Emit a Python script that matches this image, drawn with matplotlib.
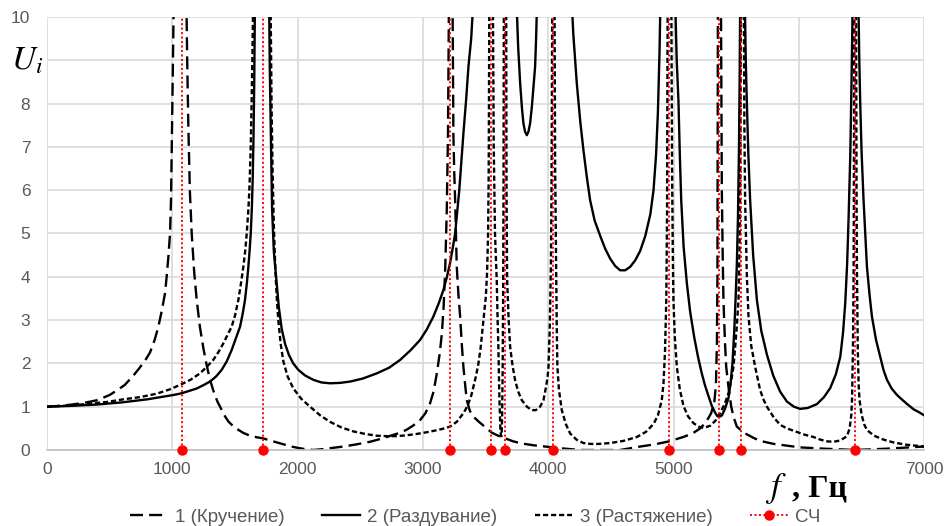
import matplotlib
matplotlib.use('Agg')
import matplotlib.pyplot as plt
from matplotlib.lines import Line2D
import numpy as np

nan = np.nan

# Natural frequencies (СЧ), Hz
nat_freqs = [1075, 1721, 3216, 3541, 3653, 4038, 4965, 5363, 5541, 6449]

# Curve 1 (Кручение) - long dashed; nan separates branches that leave the top
f1 = [0, 100, 200, 300, 400, 500, 560, 620, 690, 740, 790, 822, 860, 889, 915, 942, 955, 970, 982, 990, 997, 1005, 1012, nan,
      1112, 1120, 1128, 1140, 1155, 1175, 1195, 1220, 1248, 1275, 1301, 1330, 1360, 1390, 1420, 1450, 1490, 1530,
      1570, 1620, 1680, 1722, 1780, 1840, 1890, 1950, 2000, 2060, 2126, 2200, 2280, 2365, 2470, 2578, 2680, 2764,
      2820, 2871, 2920, 2977, 3020, 3057, 3085, 3111, 3135, 3151, 3165, 3178, 3190, 3200, 3208, nan,
      3236, 3243, 3250, 3257, 3270, 3283, 3297, 3310, 3323, 3337, 3350, 3375, 3403, 3443, 3500, 3550, 3600, 3656,
      3720, 3789, 3880, 3975, 4100, 4254, 4400, 4574, 4677, 4734, 4850, 4949, 5010, 5077, 5150, 5213, 5260, 5300,
      5325, 5338, 5346, 5350, 5354, nan,
      5378, 5385, 5392, 5398, 5410, 5420, 5438, 5460, 5480, 5505, 5560, 5638, 5691, 5800, 5904, 6010, 6200, 6449,
      6700, 7000]
u1 = [1.0, 1.02, 1.05, 1.09, 1.15, 1.27, 1.38, 1.5, 1.72, 1.9, 2.1, 2.25, 2.55, 2.85, 3.2, 3.62, 4.0, 4.5, 5.0, 5.8, 7.2, 8.9, 10.5, nan,
      10.5, 8.8, 7.5, 6.0, 5.0, 4.1, 3.46, 2.85, 2.35, 1.95, 1.62, 1.35, 1.12, 0.95, 0.78, 0.65, 0.54, 0.46,
      0.39, 0.33, 0.29, 0.27, 0.22, 0.17, 0.13, 0.08, 0.05, 0.02, 0.0, 0.02, 0.05, 0.08, 0.13, 0.19, 0.27, 0.35,
      0.4, 0.47, 0.56, 0.69, 0.85, 1.08, 1.35, 1.77, 2.25, 2.69, 3.3, 4.2, 5.5, 7.3, 10.5, nan,
      10.5, 7.3, 6.4, 5.77, 4.23, 3.6, 3.08, 2.45, 1.92, 1.5, 1.15, 0.9, 0.77, 0.66, 0.52, 0.4, 0.33, 0.27,
      0.2, 0.15, 0.11, 0.08, 0.04, 0.0, 0.0, 0.0, 0.05, 0.08, 0.13, 0.19, 0.24, 0.3, 0.38, 0.5, 0.65, 0.85,
      1.1, 1.5, 2.5, 4.0, 10.5, nan,
      10.5, 6.0, 4.5, 3.46, 2.5, 1.92, 1.46, 1.0, 0.75, 0.54, 0.4, 0.28, 0.21, 0.14, 0.1, 0.06, 0.03, 0.0,
      0.03, 0.08]

# Curve 2 (Раздувание) - solid
f2 = [0, 200, 400, 600, 800, 1008, 1075, 1140, 1195, 1250, 1301, 1350, 1394, 1435, 1474, 1510, 1541, 1562, 1580,
      1595, 1607, 1618, 1626, 1635, 1642, 1648, 1654, 1660, nan,
      1772, 1778, 1786, 1796, 1810, 1833, 1850, 1873, 1900, 1930, 1965, 2006, 2060, 2126, 2190, 2259, 2340, 2419,
      2520, 2632, 2730, 2818, 2900, 2977, 3030, 3083, 3125, 3163, 3190, 3216, 3240, 3257, 3290, 3323, 3345, 3363,
      3385, 3405, nan,
      3745, 3760, 3776, 3790, 3802, 3815, 3829, 3842, 3855, 3870, 3885, 3895, 3903, 3912, nan,
      4185, 4200, 4228, 4255, 4281, 4308, 4334, 4370, 4414, 4454, 4494, 4534, 4574, 4614, 4654, 4694, 4734, 4775,
      4815, 4840, 4860, 4875, 4888, 4896, nan,
      5012, 5025, 5039, 5050, 5061, 5080, 5106, 5132, 5165, 5195, 5225, 5250, 5278, 5305, 5332, 5350, 5368, 5386,
      5410, 5438, 5455, 5470, 5485, 5495, 5505, 5514, 5522, 5527, 5532, nan,
      5568, 5576, 5585, 5597, 5611, 5635, 5665, 5700, 5745, 5795, 5850, 5904, 5960, 6010, 6070, 6144, 6200, 6250,
      6295, 6330, 6352, 6370, 6385, 6396, 6410, 6420, 6430, nan,
      6474, 6482, 6489, 6500, 6516, 6543, 6565, 6583, 6615, 6649, 6675, 6703, 6740, 6780, 6809, 6860, 6915, 6960, 7000]
u2 = [1.0, 1.02, 1.05, 1.1, 1.17, 1.27, 1.31, 1.37, 1.42, 1.5, 1.58, 1.7, 1.85, 2.05, 2.31, 2.6, 2.85, 3.15, 3.46,
      3.85, 4.23, 4.65, 5.0, 5.6, 6.3, 7.2, 8.5, 10.5, nan,
      10.5, 8.8, 7.31, 5.6, 4.6, 3.85, 3.3, 2.8, 2.45, 2.2, 2.0, 1.85, 1.72, 1.62, 1.56, 1.54, 1.55, 1.58,
      1.65, 1.77, 1.9, 2.08, 2.3, 2.54, 2.78, 3.08, 3.38, 3.69, 3.98, 4.31, 4.7, 5.0, 6.0, 7.31, 8.1, 8.85,
      9.5, 10.5, nan,
      10.5, 9.3, 8.46, 7.9, 7.54, 7.35, 7.27, 7.35, 7.54, 7.95, 8.5, 8.85, 9.5, 10.5, nan,
      10.5, 9.6, 8.46, 7.6, 6.92, 6.3, 5.77, 5.3, 4.95, 4.65, 4.42, 4.25, 4.15, 4.15, 4.23, 4.38, 4.6, 4.95,
      5.45, 6.0, 6.8, 7.8, 9.2, 10.5, nan,
      10.5, 9.0, 8.06, 6.8, 5.77, 4.7, 3.85, 3.2, 2.6, 2.15, 1.77, 1.5, 1.25, 1.02, 0.86, 0.78, 0.77, 0.8,
      0.95, 1.2, 1.55, 2.0, 2.8, 3.5, 4.3, 5.4, 7.0, 8.5, 10.5, nan,
      10.5, 9.0, 8.0, 6.8, 5.77, 4.5, 3.46, 2.75, 2.2, 1.72, 1.35, 1.12, 1.0, 0.95, 0.97, 1.06, 1.22, 1.43,
      1.75, 2.15, 2.7, 3.4, 4.3, 5.3, 6.8, 8.5, 10.5, nan,
      10.5, 9.0, 8.06, 6.9, 5.77, 4.23, 3.55, 3.08, 2.55, 2.15, 1.85, 1.62, 1.42, 1.28, 1.2, 1.07, 0.94, 0.87, 0.8]

# Curve 3 (Растяжение) - short dashed
f3 = [0, 200, 343, 480, 609, 740, 876, 980, 1075, 1150, 1221, 1275, 1327, 1370, 1407, 1440, 1474, 1500, 1527,
      1548, 1567, 1582, 1594, 1606, 1615, 1625, 1633, 1640, 1646, nan,
      1784, 1792, 1800, 1810, 1822, 1834, 1846, 1865, 1886, 1920, 1966, 2030, 2099, 2180, 2259, 2350, 2444, 2540,
      2631, 2710, 2791, 2870, 2950, 3030, 3100, 3160, 3216, 3270, 3323, 3345, 3363, 3385, 3403, 3423, 3443, 3460,
      3475, 3490, 3502, 3512, 3520, 3525, 3530, nan,
      3558, 3565, 3575, 3589, 3596, 3602, 3606, 3610, 3614, 3618, 3623, 3628, 3632, 3636, 3640, 3643, 3646, nan,
      3664, 3667, 3672, 3684, 3696, 3715, 3735, 3760, 3789, 3830, 3869, 3900, 3935, 3962, 3985, 3995, 4002, 4012,
      4021, 4026, 4032, nan,
      4050, 4055, 4063, 4068, 4073, 4085, 4108, 4140, 4175, 4225, 4281, 4340, 4400, 4494, 4600, 4707, 4780, 4840,
      4875, 4906, 4920, 4932, 4942, 4948, 4953, nan,
      4982, 4988, 4994, 4999, 5010, 5026, 5050, 5079, 5115, 5159, 5200, 5240, 5292, 5335, 5372, 5410, 5438, 5460,
      5478, 5495, 5508, 5518, 5526, 5531, 5534, 5538, nan,
      5560, 5565, 5571, 5585, 5598, 5620, 5651, 5691, 5720, 5745, 5800, 5851, 5904, 5980, 6050, 6117, 6170, 6224,
      6277, 6330, 6384, 6405, 6418, 6424, 6432, 6437, 6443, nan,
      6456, 6460, 6463, 6470, 6477, 6484, 6500, 6520, 6543, 6600, 6675, 6760, 6862, 6930, 7000]
u3 = [1.0, 1.03, 1.07, 1.11, 1.17, 1.22, 1.3, 1.4, 1.52, 1.63, 1.77, 1.92, 2.08, 2.27, 2.46, 2.65, 2.85, 3.1, 3.46,
      3.85, 4.23, 4.6, 5.0, 5.5, 6.0, 6.9, 8.0, 9.2, 10.5, nan,
      10.5, 8.0, 6.5, 5.2, 4.2, 3.5, 3.0, 2.45, 2.05, 1.7, 1.42, 1.18, 1.0, 0.8, 0.65, 0.52, 0.43, 0.37,
      0.33, 0.32, 0.32, 0.34, 0.37, 0.41, 0.45, 0.49, 0.54, 0.65, 0.85, 0.96, 1.08, 1.25, 1.46, 1.7, 2.0, 2.35,
      2.77, 3.2, 3.54, 4.1, 5.0, 6.5, 10.5, nan,
      10.5, 7.0, 5.0, 3.92, 3.0, 2.38, 1.8, 1.23, 0.8, 0.46, 0.32, 0.32, 0.8, 1.8, 3.5, 6.0, 10.5, nan,
      10.5, 6.0, 3.92, 3.0, 2.38, 1.95, 1.62, 1.35, 1.15, 1.0, 0.92, 0.92, 1.0, 1.15, 1.5, 1.7, 1.92, 2.8,
      4.23, 6.0, 10.5, nan,
      10.5, 6.5, 4.23, 2.8, 1.92, 1.4, 0.92, 0.6, 0.38, 0.24, 0.16, 0.14, 0.14, 0.16, 0.21, 0.3, 0.42, 0.6,
      0.8, 1.15, 1.55, 2.3, 3.5, 5.5, 10.5, nan,
      10.5, 6.5, 4.5, 3.46, 2.6, 1.92, 1.4, 1.02, 0.78, 0.62, 0.54, 0.51, 0.56, 0.68, 0.85, 1.08, 1.31, 1.6,
      1.92, 2.5, 3.0, 3.46, 4.6, 5.77, 7.5, 10.5, nan,
      10.5, 7.5, 5.77, 4.0, 3.08, 2.4, 1.92, 1.38, 1.15, 1.0, 0.75, 0.58, 0.5, 0.42, 0.35, 0.3, 0.24, 0.2,
      0.19, 0.22, 0.32, 0.5, 0.8, 1.15, 2.5, 4.23, 10.5, nan,
      10.5, 6.0, 4.23, 2.3, 1.5, 1.15, 0.82, 0.6, 0.46, 0.33, 0.24, 0.17, 0.12, 0.1, 0.08]

legend_labels = ['1 (Кручение)', '2 (Раздувание)', '3 (Растяжение)', 'СЧ']
x_ticks = [0, 1000, 2000, 3000, 4000, 5000, 6000, 7000]
y_ticks = list(range(0, 11))

plt.rcParams['font.family'] = ['Liberation Sans Narrow', 'Liberation Sans', 'DejaVu Sans']

fig = plt.figure(figsize=(9.45, 5.26), dpi=100)
ax = fig.add_axes([0.0497, 0.1445, 0.9283, 0.8232])

grey_text = '#595959'
ax.set_xlim(0, 7000)
ax.set_ylim(0, 10)
ax.set_xticks(x_ticks)
# 6000 and 9 are hidden under the axis titles in the original
ax.set_xticklabels([str(t) if t != 6000 else '' for t in x_ticks])
ax.set_yticks(y_ticks)
ax.set_yticklabels([str(t) if t != 9 else '' for t in y_ticks])
ax.tick_params(length=0, labelsize=12.5, colors=grey_text)
ax.tick_params(axis='y', pad=12)
ax.tick_params(axis='x', pad=9)
ax.grid(True, color='#d9d9d9', lw=1.2)
ax.set_axisbelow(True)
for s in ['top', 'right', 'left']:
    ax.spines[s].set_visible(False)
ax.spines['bottom'].set_color('#bfbfbf')
ax.spines['bottom'].set_linewidth(1.2)

lw = 1.7
l1, = ax.plot(f1, u1, color='black', lw=lw, dashes=(5.5, 2.6))
l2, = ax.plot(f2, u2, color='black', lw=lw)
l3, = ax.plot(f3, u3, color='black', lw=lw, dashes=(2.2, 1.2))

for fr in nat_freqs:
    ax.plot([fr, fr], [0, 10], color='red', lw=1.4, ls=(0, (1, 1.3)), zorder=4)
ax.plot(nat_freqs, [0] * len(nat_freqs), 'o', color='red', ms=6.5, clip_on=False, zorder=5)

h4 = Line2D([], [], color='red', lw=1.4, ls=(0, (1, 1.3)), marker='o', ms=6.5)
leg = fig.legend([l1, l2, l3, h4], legend_labels, loc='center', ncol=4,
                 bbox_to_anchor=(0.503, 0.017), frameon=False, fontsize=13.5,
                 handlelength=2.0, columnspacing=2.0, handletextpad=0.4)
for t in leg.get_texts():
    t.set_color(grey_text)

fig.text(0.012, 0.868, r'$U_i$', fontsize=24, math_fontfamily='stix', color='black')
fig.text(0.809, 0.056, r'$f$', fontsize=25, math_fontfamily='stix', color='black')
fig.text(0.838, 0.056, ', Гц', fontsize=23, family='Liberation Serif',
         fontweight='bold', color='black')

fig.savefig('out.png', dpi=100)
